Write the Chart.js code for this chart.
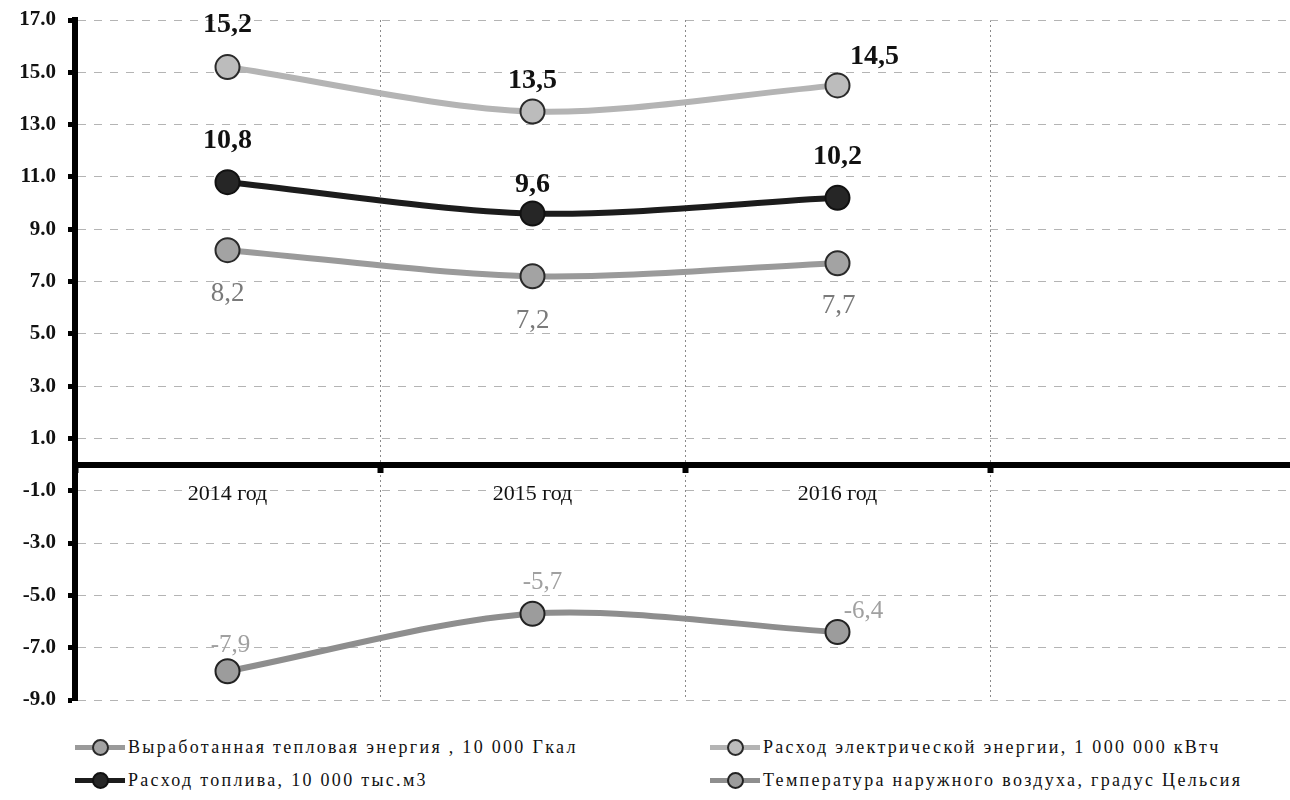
<!DOCTYPE html>
<html lang="ru">
<head>
<meta charset="utf-8">
<title>Показатели 2014–2016</title>
<script src="https://cdn.jsdelivr.net/npm/chart.js@4.4.1/dist/chart.umd.min.js"></script>
<style>
  html, body { margin: 0; padding: 0; background: #fff; overflow: hidden; }
  #wrap { position: relative; width: 1290px; height: 800px; overflow: hidden; }
  #box { position: absolute; left: 0; top: 0; width: 1295px; height: 720px; }
  #legend { position: absolute; left: 0; top: 732px; width: 1290px; height: 68px;
            font-family: "Liberation Serif", "Tinos", "Times New Roman", "DejaVu Serif", serif;
            font-size: 18px; letter-spacing: 2.3px; color: #111; }
  .item { position: absolute; display: flex; align-items: center; height: 30px; white-space: nowrap; }
  .mark { position: relative; width: 50px; height: 5px; margin-right: 3px; }
  .mark i { position: absolute; left: 17px; top: -6px; width: 13px; height: 13px; border-radius: 50%;
            border: 2px solid #222; box-sizing: content-box; }
</style>
</head>
<body>
<div id="wrap">
  <div id="box"><canvas id="chart"></canvas></div>
  <div id="legend"></div>
</div>
<script>
// categories (the fourth column is left empty)
const years = ['2014 год', '2015 год', '2016 год', ''];

// series names
const seriesNames = [
  'Выработанная тепловая энергия , 10 000 Гкал',
  'Расход электрической энергии, 1 000 000 кВтч',
  'Расход топлива, 10 000 тыс.м3',
  'Температура наружного воздуха, градус Цельсия'
];

// series values
const heatOutput = [8.2, 7.2, 7.7];
const electricity = [15.2, 13.5, 14.5];
const fuel = [10.8, 9.6, 10.2];
const airTemp = [-7.9, -5.7, -6.4];

// value axis range and step
const yMin = -9;
const yMax = 17;
const yStep = 2;

const SERIF = '"Liberation Serif", "Tinos", "Times New Roman", "DejaVu Serif", serif';

const styles = [
  { line: '#9a9a9a', fill: '#a3a3a3', border: '#2a2a2a', label: '#7a7a7a', weight: 'normal', size: 27,
    offsets: [[0, 44], [0, 45], [1, 43]] },
  { line: '#b4b4b4', fill: '#bcbcbc', border: '#2a2a2a', label: '#111', weight: 'bold', size: 28,
    offsets: [[0, -42], [0, -31], [37, -29]] },
  { line: '#1c1c1c', fill: '#262626', border: '#111', label: '#111', weight: 'bold', size: 28,
    offsets: [[0, -41], [0, -29], [0, -41]] },
  { line: '#8e8e8e', fill: '#9c9c9c', border: '#222', label: '#a0a0a0', weight: 'normal', size: 25,
    offsets: [[3, -26], [10, -31], [26, -21]] }
];

const values = [heatOutput, electricity, fuel, airTemp];

const datasets = values.map((v, i) => ({
  label: seriesNames[i],
  data: v,
  borderColor: styles[i].line,
  backgroundColor: styles[i].fill,
  borderWidth: 6,
  tension: 0.3,
  pointRadius: 12,
  pointHoverRadius: 12,
  pointBackgroundColor: styles[i].fill,
  pointBorderColor: styles[i].border,
  pointBorderWidth: 2,
  fill: false
}));

// value labels next to each point, decimal comma
const valueLabels = {
  id: 'valueLabels',
  afterDatasetsDraw(chart) {
    const ctx = chart.ctx;
    chart.data.datasets.forEach((ds, i) => {
      const meta = chart.getDatasetMeta(i);
      const st = styles[i];
      ctx.save();
      ctx.font = st.weight + ' ' + st.size + 'px ' + SERIF;
      ctx.fillStyle = st.label;
      ctx.textAlign = 'center';
      ctx.textBaseline = 'middle';
      meta.data.forEach((pt, j) => {
        const txt = ds.data[j].toFixed(1).replace('.', ',');
        const off = st.offsets[j];
        ctx.fillText(txt, pt.x + off[0], pt.y + off[1]);
      });
      ctx.restore();
    });
  }
};

new Chart(document.getElementById('chart'), {
  type: 'line',
  data: { labels: years, datasets },
  options: {
    responsive: true,
    maintainAspectRatio: false,
    animation: false,
    layout: { autoPadding: false, padding: { top: 20, bottom: 20, left: 0, right: 0 } },
    plugins: { legend: { display: false }, tooltip: { enabled: false } },
    scales: {
      x: {
        position: { y: 0 },
        offset: true,
        grid: {
          offset: true,
          color: '#8a8a8a',
          lineWidth: 1,
          tickColor: '#000',
          tickWidth: 6,
          tickLength: 5,
          drawOnChartArea: true
        },
        border: { display: true, color: '#000', width: 6, dash: [2, 3] },
        ticks: {
          color: '#111',
          font: { family: SERIF, size: 22 },
          padding: 11,
          maxRotation: 0,
          autoSkip: false
        },
        afterFit(scale) { scale.height = 0; }
      },
      y: {
        min: yMin,
        max: yMax,
        afterBuildTicks(scale) {
          const t = [];
          for (let v = yMin; v <= yMax; v += yStep) t.push({ value: v });
          scale.ticks = t;
        },
        afterFit(scale) {
          scale.width = 75;
          scale.paddingTop = 0;
          scale.paddingBottom = 0;
        },
        grid: {
          color: '#b4b4b4',
          lineWidth: 1,
          tickColor: '#000',
          tickWidth: 5,
          tickLength: 7
        },
        border: { display: true, color: '#000', width: 6, dash: [8, 8] },
        ticks: {
          color: '#111',
          font: { family: SERIF, size: 21, weight: 'bold' },
          padding: 12,
          callback: (v) => Number(v).toFixed(1)
        }
      }
    }
  },
  plugins: [valueLabels]
});

// legend in two columns, two rows
const legendPos = [[75, 0], [710, 0], [75, 33], [710, 33]];
const legend = document.getElementById('legend');
seriesNames.forEach((name, i) => {
  const item = document.createElement('div');
  item.className = 'item';
  item.style.left = legendPos[i][0] + 'px';
  item.style.top = legendPos[i][1] + 'px';
  const mark = document.createElement('span');
  mark.className = 'mark';
  mark.style.background = styles[i].line;
  const dot = document.createElement('i');
  dot.style.background = styles[i].fill;
  dot.style.borderColor = styles[i].border;
  mark.appendChild(dot);
  const text = document.createElement('span');
  text.textContent = name;
  item.appendChild(mark);
  item.appendChild(text);
  legend.appendChild(item);
});
</script>
</body>
</html>
